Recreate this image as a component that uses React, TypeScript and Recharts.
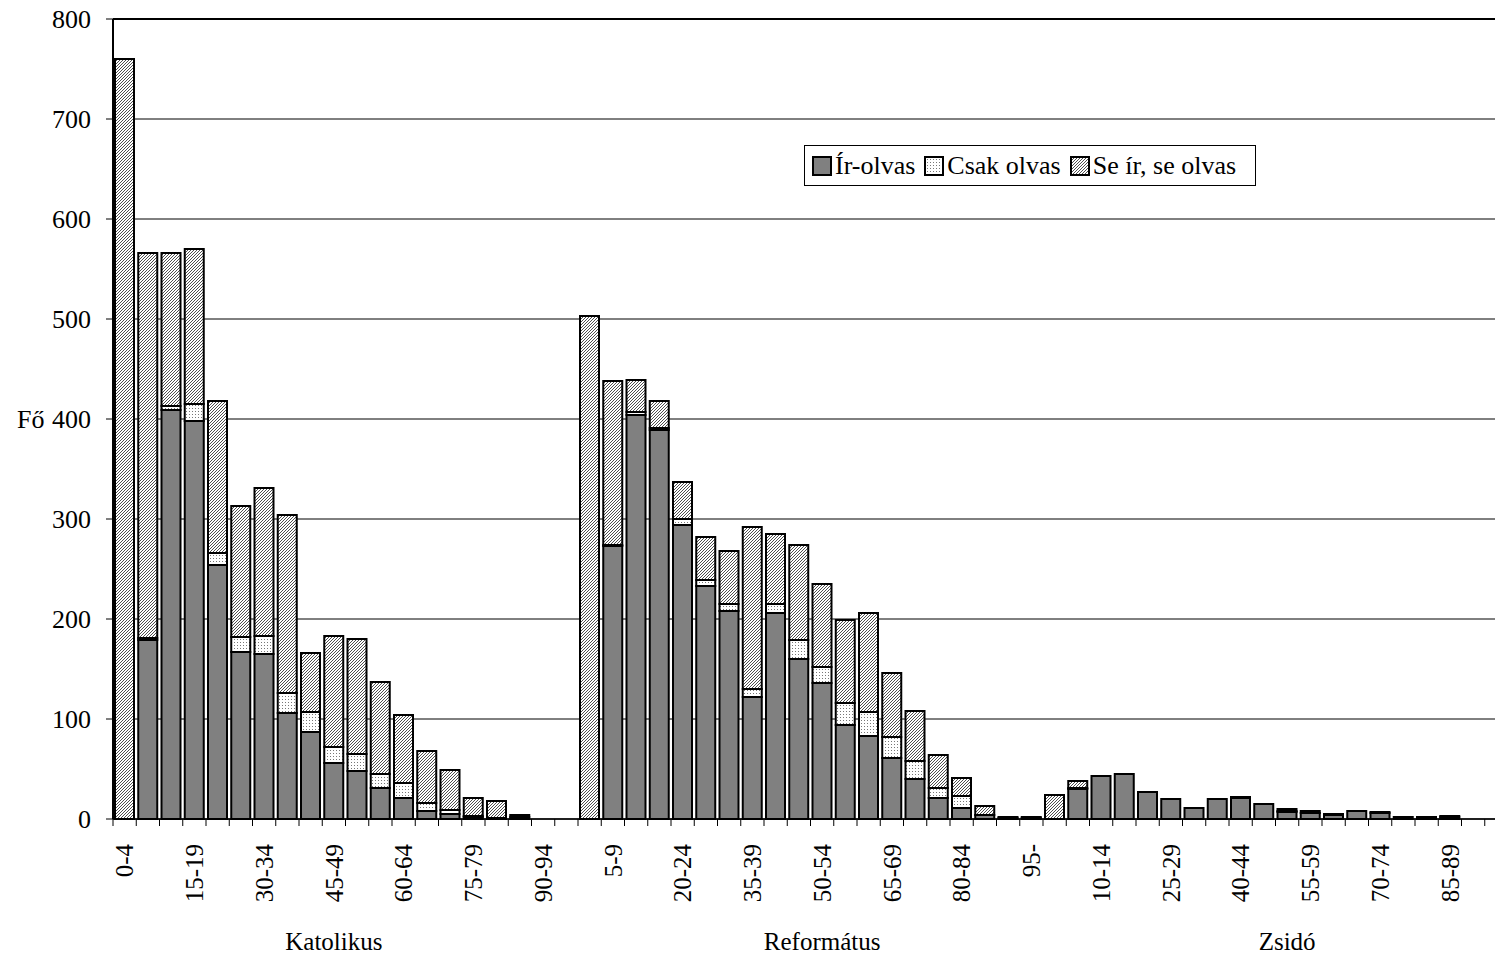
import React from "react";
import {
  BarChart,
  Bar,
  XAxis,
  YAxis,
  CartesianGrid,
  Legend,
  ReferenceLine,
} from "recharts";

const FONT = "Liberation Serif, Times New Roman, serif";

const ageGroups = [
  "0-4", "5-9", "10-14", "15-19", "20-24", "25-29", "30-34", "35-39", "40-44", "45-49",
  "50-54", "55-59", "60-64", "65-69", "70-74", "75-79", "80-84", "85-89", "90-94", "95-",
];

const religions = ["Katolikus", "Református", "Zsidó"];

// Katolikus
const katIrOlvas = [0, 179, 409, 398, 254, 167, 165, 106, 87, 56, 48, 31, 21, 8, 5, 2, 1, 2, 0, 0];
const katCsakOlvas = [0, 2, 4, 17, 12, 15, 18, 20, 20, 16, 17, 14, 15, 8, 4, 1, 0, 0, 0, 0];
const katSeIr = [760, 385, 153, 155, 152, 131, 148, 178, 59, 111, 115, 92, 68, 52, 40, 18, 17, 2, 0, 0];

// Református
const refIrOlvas = [0, 273, 404, 389, 294, 233, 208, 122, 206, 160, 136, 94, 83, 61, 40, 21, 11, 4, 1, 1];
const refCsakOlvas = [0, 1, 3, 2, 6, 6, 7, 8, 9, 19, 16, 22, 24, 21, 18, 10, 12, 0, 0, 0];
const refSeIr = [503, 164, 32, 27, 37, 43, 53, 162, 70, 95, 83, 83, 99, 64, 50, 33, 18, 9, 1, 1];

// Zsidó
const zsIrOlvas = [0, 30, 43, 45, 27, 20, 11, 20, 21, 15, 7, 6, 4, 8, 6, 2, 2, 2, 0, 0];
const zsCsakOlvas = [0, 1, 0, 0, 0, 0, 0, 0, 0, 0, 1, 0, 0, 0, 0, 0, 0, 0, 0, 0];
const zsSeIr = [24, 7, 0, 0, 0, 0, 0, 0, 1, 0, 2, 2, 1, 0, 1, 0, 0, 1, 0, 0];

const yTicks = [0, 100, 200, 300, 400, 500, 600, 700, 800];

// category index under which each religion name is printed
const groupLabelAt = [9, 30, 50];

const series = [
  [katIrOlvas, katCsakOlvas, katSeIr],
  [refIrOlvas, refCsakOlvas, refSeIr],
  [zsIrOlvas, zsCsakOlvas, zsSeIr],
];

const rows = series.flatMap(([ir, csak, se], g) =>
  ageGroups.map((age, i) => ({
    age,
    religion: religions[g],
    irOlvas: ir[i],
    csakOlvas: csak[i],
    seIr: se[i],
  }))
);

const CHART_W = 1508;
const CHART_H = 954;
const Y_AXIS_W = 113;
const X_TICK = 7;
const BAND = (CHART_W - Y_AXIS_W) / rows.length;

const XTick = (props: any) => {
  const { x, y, index } = props;
  const axisY = y - X_TICK;
  const edge = x - BAND / 2;
  const showAge = index % 3 === 0;
  const g = groupLabelAt.indexOf(index);
  const ly = axisY + 25;
  return (
    <g>
      <line x1={edge} x2={edge} y1={axisY} y2={axisY + X_TICK} stroke="#000" strokeWidth={1} />
      {showAge && (
        <text
          x={x}
          y={ly}
          transform={`rotate(-90, ${x}, ${ly})`}
          textAnchor="end"
          dy="0.35em"
          style={{ fontFamily: FONT, fontSize: 25 }}
          fill="#000"
        >
          {rows[index].age}
        </text>
      )}
      {g >= 0 && (
        <text
          x={x}
          y={axisY + 122}
          textAnchor="middle"
          dy="0.35em"
          style={{ fontFamily: FONT, fontSize: 25 }}
          fill="#000"
        >
          {religions[g]}
        </text>
      )}
    </g>
  );
};

const legendItems = [
  { name: "Ír-olvas", fill: "#808080" },
  { name: "Csak olvas", fill: "url(#dots)" },
  { name: "Se ír, se olvas", fill: "url(#hatch)" },
];

const LegendBox = () => (
  <div
    style={{
      width: 452,
      height: 41,
      boxSizing: "border-box",
      border: "1px solid #000",
      background: "#fff",
      display: "flex",
      alignItems: "center",
      paddingLeft: 7,
      fontFamily: FONT,
      fontSize: 26,
      color: "#000",
      whiteSpace: "nowrap",
    }}
  >
    {legendItems.map((it) => (
      <div key={it.name} style={{ display: "flex", alignItems: "center", marginRight: 9 }}>
        <svg width={20} height={20} style={{ marginRight: 3 }}>
          <rect x={1} y={1} width={18} height={18} fill={it.fill} stroke="#000" strokeWidth={2} />
        </svg>
        <span>{it.name}</span>
      </div>
    ))}
  </div>
);

export default function App() {
  return (
    <div
      style={{
        position: "fixed",
        left: 0,
        top: 0,
        width: 1495,
        height: 954,
        overflow: "hidden",
        background: "#fff",
        fontFamily: FONT,
      }}
    >
      <BarChart
        width={CHART_W}
        height={CHART_H}
        data={rows}
        margin={{ top: 19, right: 0, left: 0, bottom: 0 }}
        barSize={19}
        style={{ fontFamily: FONT }}
      >
        <defs>
          <pattern id="hatch" patternUnits="userSpaceOnUse" width={3} height={3}>
            <rect width={3} height={3} fill="#fff" />
            <path d="M-1,1 l2,-2 M0,3 l3,-3 M2,4 l2,-2" stroke="#222" strokeWidth={0.8} />
          </pattern>
          <pattern id="dots" patternUnits="userSpaceOnUse" width={3} height={3}>
            <rect width={3} height={3} fill="#fff" />
            <rect x={0} y={0} width={1} height={1} fill="#777" />
          </pattern>
        </defs>
        <CartesianGrid vertical={false} stroke="#000" strokeWidth={1} />
        <XAxis
          dataKey="age"
          interval={0}
          allowDuplicatedCategory
          height={CHART_H - 19 - 800}
          tickSize={X_TICK}
          tickMargin={0}
          tickLine={false}
          axisLine={{ stroke: "#000", strokeWidth: 1.5 }}
          tick={(p: any) => <XTick {...p} />}
        />
        <YAxis
          width={Y_AXIS_W}
          domain={[0, 800]}
          ticks={yTicks}
          interval={0}
          tickSize={7}
          tickMargin={15}
          axisLine={{ stroke: "#000", strokeWidth: 2 }}
          tickLine={{ stroke: "#000" }}
          tick={{ fontSize: 26, fill: "#000", fontFamily: FONT, style: { fontFamily: FONT } }}
          label={{
            value: "Fő",
            position: "insideLeft",
            offset: 17,
            fill: "#000",
            fontSize: 26,
            fontFamily: FONT,
            style: { fontFamily: FONT },
          }}
        />
        <ReferenceLine y={800} stroke="#000" strokeWidth={2} />
        <Legend
          layout="horizontal"
          verticalAlign="middle"
          align="center"
          wrapperStyle={{ left: 804, top: 145, width: "auto", height: "auto" }}
          content={() => <LegendBox />}
        />
        <Bar dataKey="irOlvas" name="Ír-olvas" stackId="a" fill="#808080" stroke="#000" strokeWidth={2} isAnimationActive={false} />
        <Bar dataKey="csakOlvas" name="Csak olvas" stackId="a" fill="url(#dots)" stroke="#000" strokeWidth={2} isAnimationActive={false} />
        <Bar dataKey="seIr" name="Se ír, se olvas" stackId="a" fill="url(#hatch)" stroke="#000" strokeWidth={2} isAnimationActive={false} />
      </BarChart>
    </div>
  );
}
